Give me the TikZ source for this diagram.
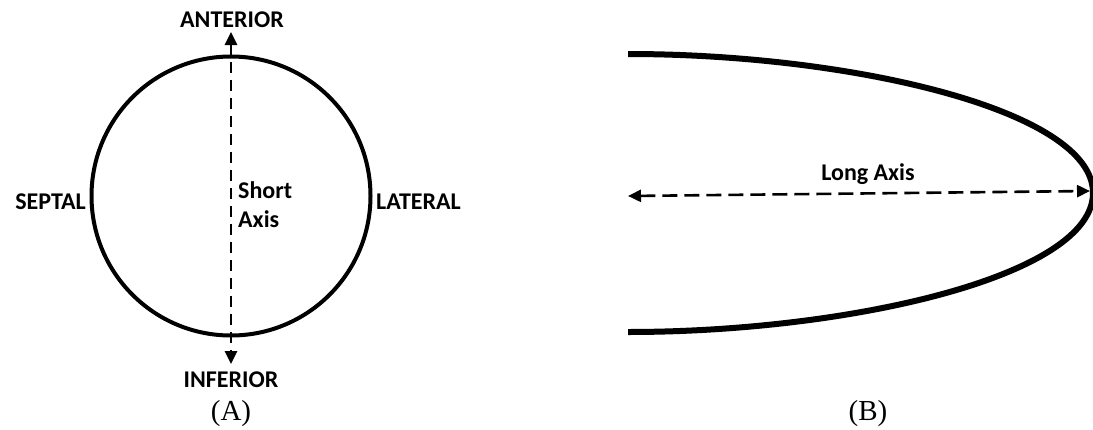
\documentclass[tikz,border=0pt]{standalone}
\usepackage{fontspec}
\setmainfont{Liberation Serif}
\newfontfamily\lab{Carlito}
\usetikzlibrary{arrows.meta}
\begin{document}
\begin{tikzpicture}[x=1pt,y=-1pt,
  lbl/.style={font=\lab\bfseries\fontsize{24}{29}\selectfont, inner sep=0pt},
  captxt/.style={font=\fontsize{29}{32}\selectfont, inner sep=0pt},
  axisline/.style={line width=2.6pt, dash pattern=on 11pt off 7pt, {Triangle[length=13pt,width=12pt]}-{Triangle[length=13pt,width=12pt]}},
]
\useasboundingbox (0,0) rectangle (1093,429);
% (A)
\node[draw, circle, line width=4pt, minimum size=279pt, inner sep=0pt] (circ) at (231,196) {};
\coordinate (top) at (231,32);
\coordinate (bot) at (231,364);
\draw[axisline] (top) -- (bot);
\node[lbl] (ant) at (232,20) {ANTERIOR};
\node[lbl] (inf) at (231,380) {INFERIOR};
\node[lbl, anchor=east] (sep) at (86,202) {SEPTAL};
\node[lbl, anchor=west] (lat) at (376,202) {LATERAL};
\node[lbl, anchor=west, align=left] (sa) at (238,205) {Short\\Axis};
\node[captxt] (capA) at (231,414) {(A)};
% (B)
\coordinate (p0) at (628,54);
\coordinate (vx) at (1093,193);
\coordinate (p1) at (628,332);
\draw[line width=6pt] (p0) .. controls (850,54) and (1093,110) .. (vx)
  .. controls (1093,276) and (850,332) .. (p1);
\coordinate (la) at (628,196);
\coordinate (lb) at (1090,191);
\draw[axisline, dash pattern=on 15pt off 7pt] (la) -- (lb);
\node[lbl] (lax) at (868,174) {Long Axis};
\node[captxt] (capB) at (868,414) {(B)};
\end{tikzpicture}
\end{document}
